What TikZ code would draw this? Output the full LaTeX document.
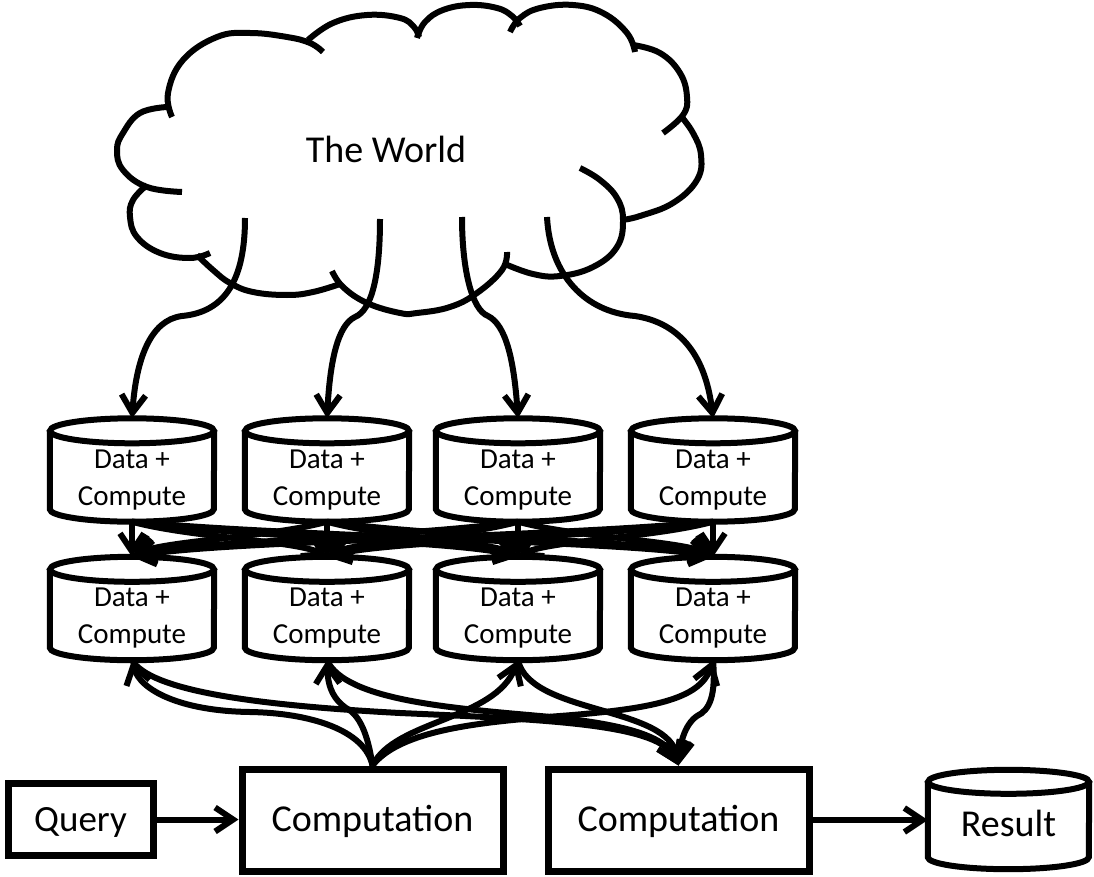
\documentclass[tikz,border=0pt]{standalone}
\usepackage{fontspec}
\setmainfont{Carlito}
\usetikzlibrary{arrows.meta,calc}

\tikzset{
  conn/.style={line width=6pt, -{Straight Barb[length=18pt,width=24pt]}},
  cloudline/.style={line width=6pt},
  box/.style={draw, line width=7pt, rectangle, inner sep=0pt,
    text height=30pt, text depth=7pt, font=\fontsize{38}{45}\selectfont},
  drum/.style={rectangle, inner sep=0pt, minimum width=164pt, minimum height=103pt},
  drumtext/.style={align=center, font=\fontsize{29}{37}\selectfont, yshift=-10pt, inner sep=0pt},
  bigtext/.style={font=\fontsize{38}{45}\selectfont, inner sep=0pt, text height=30pt, text depth=7pt},
}

% outline of a storage drum around a rectangular node:
% #1 node name, #2 half width, #3 vertical radius of the end ellipses
\newcommand\drumshape[3]{%
  \draw[line width=6pt] ([yshift=-#3]#1.north west) -- ([yshift=#3]#1.south west)
     arc[start angle=180, end angle=360, x radius=#2, y radius=#3]
     -- ([yshift=-#3]#1.north east);
  \draw[line width=6pt] ([yshift=-#3]#1.north) ellipse[x radius=#2, y radius=#3];
}

\begin{document}
\begin{tikzpicture}[x=1pt, y=1pt]
\useasboundingbox (0,0) rectangle (1094,-877);
\fill[white] (0,0) rectangle (1094,-877);

% ---- cloud: one arc per lobe ----
\draw[cloudline] plot[smooth, tension=0.7] coordinates {(172,-117) (168,-93) (183,-60) (217,-37) (250,-33) (287,-37) (310,-43) (323,-52)};
\draw[cloudline] plot[smooth, tension=0.7] coordinates {(308,-40) (333,-23) (367,-15) (400,-18) (414,-27) (419,-37)};
\draw[cloudline] plot[smooth, tension=0.7] coordinates {(417,-38) (425,-22) (443,-10) (470,-5) (497,-8) (512,-16) (520,-26)};
\draw[cloudline] plot[smooth, tension=0.7] coordinates {(510,-32) (520,-18) (540,-8) (573,-5) (603,-13) (627,-33) (635,-52)};
\draw[cloudline] plot[smooth, tension=0.7] coordinates {(633,-45) (660,-53) (680,-73) (687,-97) (683,-115) (663,-133)};
\draw[cloudline] plot[smooth, tension=0.7] coordinates {(680,-115) (693,-133) (701,-155) (697,-180) (673,-203) (640,-216) (622,-220)};
\draw[cloudline] plot[smooth, tension=0.7] coordinates {(580,-168) (600,-180) (617,-198) (623,-220) (617,-247) (593,-267) (560,-276) (533,-274) (505,-264)};
\draw[cloudline] plot[smooth, tension=0.7] coordinates {(507,-252) (502,-270) (477,-293) (450,-307) (417,-313) (400,-313) (367,-303) (343,-287) (332,-271)};
\draw[cloudline] plot[smooth, tension=0.7] coordinates {(197,-255) (213,-270) (230,-283) (253,-292) (287,-295) (313,-292) (340,-284)};
\draw[cloudline] plot[smooth, tension=0.7] coordinates {(210,-253) (190,-258) (160,-253) (137,-237) (130,-217) (133,-200) (147,-185)};
\draw[cloudline] plot[smooth, tension=0.7] coordinates {(182,-192) (147,-187) (123,-170) (117,-150) (123,-133) (140,-113) (167,-107)};

\node[bigtext] (world) at (386,-151.5) {The World};

\coordinate (w1) at (245,-218);
\coordinate (w2) at (380,-219);
\coordinate (w3) at (462,-217);
\coordinate (w4) at (547,-217);

% ---- two rows of data + compute drums ----
\foreach \n/\x in {1/132, 2/327, 3/518, 4/713}{
  \node[drum, label={[name=at\n, drumtext]center:Data +\\Compute}] (a\n) at (\x,-470) {};
  \node[drum, label={[name=bt\n, drumtext]center:Data +\\Compute}] (b\n) at (\x,-608.5) {};
}
\foreach \n in {1,...,4}{
  \drumshape{a\n}{82pt}{12.5pt}
  \drumshape{b\n}{82pt}{12.5pt}
}

% ---- bottom row ----
\node[box, font=\fontsize{37}{44}\selectfont, minimum width=145pt, minimum height=72pt] (query) at (80.5,-819.5) {Query};
\node[box, minimum width=261pt, minimum height=102pt] (comp1) at (372.5,-820) {Computation};
\node[box, minimum width=261pt, minimum height=102pt] (comp2) at (678.5,-820) {Computation};
\node[drum, minimum width=161pt, minimum height=99pt,
  label={[name=rt, bigtext, yshift=-5pt]center:Result}] (result) at (1008.5,-819.5) {};
\drumshape{result}{80.5pt}{12pt}

% ---- world to first row ----
\draw[conn] (w1) .. controls (245,-280) and (225,-312) .. (182,-316)
               .. controls (150,-320) and (136,-360) .. (a1.north);
\draw[conn] (w2) .. controls (380,-275) and (372,-310) .. (355,-317)
               .. controls (338,-325) and (330,-360) .. (a2.north);
\draw[conn] (w3) .. controls (462,-270) and (472,-310) .. (488,-316)
               .. controls (506,-325) and (514,-360) .. (a3.north);
\draw[conn] (w4) .. controls (550,-275) and (585,-312) .. (635,-316)
               .. controls (675,-322) and (705,-350) .. (a4.north);

% ---- every drum of the first row feeds every drum of the second ----
\foreach \i in {1,...,4}{
  \foreach \j in {1,...,4}{
    \draw[conn] let \p1=(a\i.south), \p2=(b\j.north) in
      (\p1) .. controls ({\x1+0.3*(\x2-\x1)},{\y1-16pt}) and ({\x2-0.15*(\x2-\x1)},{\y2+16pt}) .. (\p2);
  }
}

% ---- query and computations ----
\draw[conn] (query.east) -- (query.east -| comp1.west);
\draw[conn] (comp2.east) -- (comp2.east -| result.west);

\draw[conn] (comp1.north) .. controls (365,-730) and (310,-713) .. (250,-712)
                         .. controls (180,-711) and (140,-690) .. (b1.south);
\draw[conn] (comp1.north) .. controls (368,-735) and (360,-715) .. (346,-708)
                         .. controls (335,-700) and (328,-690) .. (b2.south);
\draw[conn] (comp1.north) .. controls (395,-720) and (495,-720) .. (b3.south);
\draw[conn] (comp1.north) .. controls (400,-730) and (480,-722) .. (560,-716)
                         .. controls (650,-709) and (700,-700) .. (b4.south);

\draw[conn] (b1.south) .. controls (150,-690) and (250,-705) .. (400,-713)
                       .. controls (560,-720) and (660,-725) .. (comp2.north);
\draw[conn] (b2.south) .. controls (345,-700) and (450,-708) .. (540,-716)
                       .. controls (620,-723) and (665,-735) .. (comp2.north);
\draw[conn] (b3.south) .. controls (530,-715) and (670,-705) .. (comp2.north);
\draw[conn] (b4.south) .. controls (716,-695) and (710,-710) .. (697,-716)
                       .. controls (684,-725) and (680,-745) .. (comp2.north);
\end{tikzpicture}
\end{document}
